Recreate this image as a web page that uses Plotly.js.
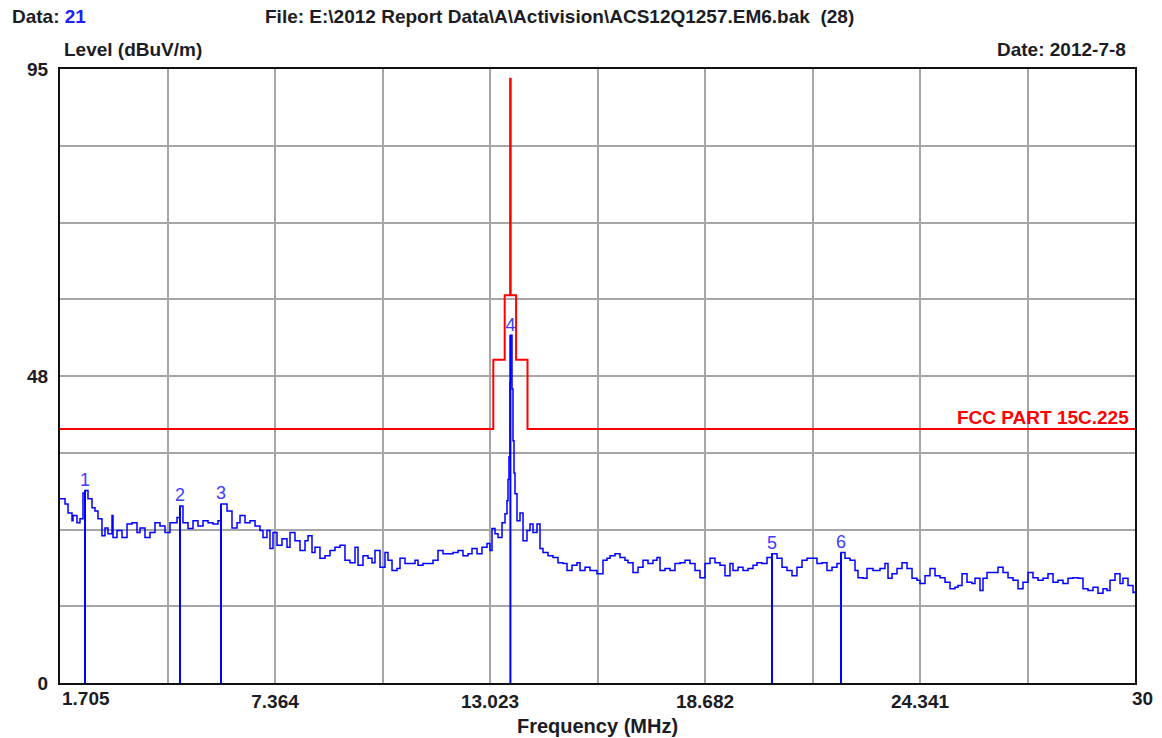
<!DOCTYPE html>
<html>
<head>
<meta charset="utf-8">
<script src="https://cdn.plot.ly/plotly-3.0.1.min.js"></script>
<style>html,body{margin:0;padding:0;background:#fff;}#chart{width:1162px;height:738px;}</style>
</head>
<body>
<div id="chart"></div>
<script>
// Measured trace: frequency (MHz) and level (dBuV/m)
const traceFreq = [1.705,1.837,1.916,2.021,2.047,2.152,2.231,2.310,2.363,2.442,2.547,2.626,2.705,2.810,2.889,2.968,3.074,3.100,3.205,3.337,3.469,3.600,3.732,3.811,3.942,4.074,4.205,4.337,4.469,4.600,4.785,4.864,4.942,5.074,5.206,5.337,5.469,5.601,5.732,5.864,5.943,6.101,6.232,6.364,6.443,6.574,6.706,6.838,6.969,7.048,7.153,7.232,7.311,7.417,7.548,7.680,7.759,7.890,8.022,8.154,8.233,8.338,8.417,8.548,8.680,8.812,8.943,9.075,9.206,9.338,9.470,9.549,9.680,9.812,9.917,9.996,10.128,10.259,10.338,10.444,10.575,10.654,10.786,10.917,11.049,11.128,11.259,11.391,11.523,11.654,11.786,11.918,12.049,12.181,12.312,12.444,12.549,12.681,12.812,12.944,13.023,13.076,13.155,13.234,13.339,13.418,13.470,13.497,13.523,13.549,13.560,13.602,13.628,13.655,13.681,13.734,13.813,13.892,13.997,14.076,14.155,14.260,14.339,14.418,14.550,14.681,14.813,14.944,15.050,15.181,15.313,15.392,15.524,15.655,15.839,15.997,16.103,16.182,16.313,16.445,16.576,16.655,16.787,16.919,17.050,17.182,17.313,17.419,17.498,17.629,17.761,17.892,18.024,18.156,18.287,18.419,18.550,18.682,18.814,18.945,19.077,19.208,19.340,19.419,19.551,19.682,19.814,19.946,20.051,20.182,20.314,20.445,20.577,20.709,20.840,20.972,21.103,21.235,21.367,21.498,21.630,21.761,21.893,22.025,22.156,22.262,22.367,22.499,22.630,22.709,22.841,22.946,23.104,23.288,23.420,23.499,23.604,23.736,23.867,23.999,24.131,24.262,24.341,24.473,24.604,24.736,24.867,24.999,25.131,25.262,25.341,25.447,25.578,25.710,25.789,25.920,25.999,26.105,26.236,26.394,26.526,26.658,26.789,26.921,27.052,27.184,27.315,27.447,27.579,27.710,27.842,27.973,28.105,28.237,28.368,28.500,28.631,28.763,28.895,29.026,29.158,29.263,29.342,29.474,29.605,29.684,29.816,29.948,30.000];
const traceLevel = [28.5,27.7,26.3,25.1,25.9,24.8,25.4,29.4,29.8,28.5,27.1,26.6,25.4,22.8,24.0,23.1,25.9,22.5,23.6,22.5,24.6,24.8,23.3,24.0,22.5,23.3,24.8,24.3,23.3,24.8,25.6,27.4,24.8,23.9,25.1,24.3,25.1,24.8,24.6,25.1,27.7,26.6,24.0,24.8,25.9,24.8,25.1,24.3,23.6,22.5,23.6,20.8,23.3,21.3,22.3,21.0,23.3,22.0,20.5,22.0,22.8,20.2,21.0,19.3,19.7,20.5,21.0,21.3,19.0,18.6,21.0,18.2,19.7,19.3,18.6,20.5,17.9,20.2,19.0,17.4,17.7,19.3,18.5,18.5,19.0,18.2,18.5,18.5,19.0,20.5,20.0,20.0,20.2,20.5,19.7,20.0,20.8,20.0,21.0,21.6,20.5,23.9,23.1,22.5,24.8,26.2,28.2,31.5,35.0,46.5,53.8,45.5,37.5,32.5,29.3,25.1,26.3,22.0,23.6,24.6,23.3,24.6,20.8,20.2,19.7,19.4,18.6,18.5,17.4,18.2,18.6,17.4,17.9,17.4,16.9,19.0,19.3,19.7,20.0,19.4,19.0,18.6,17.1,17.9,19.0,18.5,19.0,19.4,17.4,17.7,17.4,18.5,18.6,19.0,18.5,17.4,16.3,18.5,19.3,18.6,18.2,16.6,18.5,17.4,17.9,17.4,17.7,18.2,18.6,18.5,19.4,20.0,19.3,17.9,17.4,16.6,17.9,19.0,19.3,19.3,18.5,18.6,17.4,17.9,18.5,20.2,19.3,19.0,17.4,16.3,16.2,17.7,17.4,17.7,18.5,16.2,16.9,17.7,18.6,17.7,16.2,15.9,15.4,16.6,17.7,16.6,16.3,15.6,14.6,14.8,15.1,16.9,15.6,15.4,16.2,14.3,16.2,17.1,17.1,17.9,17.1,16.3,15.9,14.6,15.6,17.1,16.3,15.9,16.2,16.9,15.6,15.9,15.4,16.2,16.3,16.2,14.6,14.3,14.8,13.9,14.6,14.3,15.9,16.9,15.4,16.2,15.1,14.0,14.2];

// FCC PART 15C.225 limit (dBuV/m)
const limitFreq  = [1.705,13.11,13.11,13.41,13.41,13.553,13.553,13.567,13.567,13.71,13.71,14.01,14.01,30];
const limitLevel = [39.3,39.3,50.0,50.0,60.0,60.0,93.5,93.5,60.0,60.0,50.0,50.0,39.3,39.3];

// Marked peaks
const markerNo    = ["1","2","3","4","5","6"];
const markerFreq  = [2.363,4.864,5.943,13.560,20.445,22.262];
const markerLevel = [29.8,27.4,27.7,53.8,20.0,20.2];

// Axis ticks
const xTickVals = [1.705,4.5345,7.364,10.1935,13.023,15.8525,18.682,21.5115,24.341,27.1705,30];
const xTickText = ["","","7.364","","13.023","","18.682","","24.341","",""];
const yTickVals = [0,11.875,23.75,35.625,47.5,59.375,71.25,83.125,95];
const yTickText = ["0","","","","48","","","","95"];

const stemX = [], stemY = [];
markerFreq.forEach((f,i)=>{ stemX.push(f,f,null); stemY.push(0,markerLevel[i],null); });

const F = 'Liberation Sans, Arial, sans-serif';
const TXT = '#1c1c24';

const data = [
  {x: limitFreq, y: limitLevel, mode:'lines', line:{color:'#ff0000', width:2}, hoverinfo:'skip', name:'FCC PART 15C.225'},
  {x: traceFreq, y: traceLevel, mode:'lines', line:{color:'#0000ff', width:1.5, shape:'hv'}, name:'Level'},
  {x: stemX, y: stemY, mode:'lines', line:{color:'#0000ff', width:2}, hoverinfo:'skip', name:'Markers'},
  {x: markerFreq, y: markerLevel, mode:'text', text: markerNo, textposition:'top center',
   textfont:{family:F, size:18, color:'#3c3cff'}, hoverinfo:'skip', name:'Marker labels'}
];

const layout = {
  width:1162, height:738,
  margin:{l:60, r:27, t:69, b:55},
  paper_bgcolor:'#ffffff', plot_bgcolor:'#ffffff',
  showlegend:false,
  font:{family:F, color:TXT},
  xaxis:{
    range:[1.705,30], autorange:false,
    tickmode:'array', tickvals:xTickVals, ticktext:xTickText,
    showgrid:true, gridcolor:'#a6a6a6', gridwidth:2,
    showline:true, mirror:true, linecolor:'#111', linewidth:2,
    zeroline:false, ticks:'',
    tickfont:{family:F, size:19, color:TXT, weight:'bold'},
    title:{text:'Frequency (MHz)', font:{family:F, size:20, color:TXT, weight:'bold'}, standoff:8}
  },
  yaxis:{
    range:[0,95], autorange:false,
    tickmode:'array', tickvals:yTickVals, ticktext:yTickText,
    showgrid:true, gridcolor:'#a6a6a6', gridwidth:2,
    showline:true, mirror:true, linecolor:'#111', linewidth:2,
    zeroline:false, ticks:'', ticklabelstandoff:6,
    tickfont:{family:F, size:19, color:TXT, weight:'bold'}
  },
  annotations:[
    {xref:'paper', yref:'paper', x:-0.0465, y:1.085, xanchor:'left', yanchor:'middle', showarrow:false,
     text:'Data: <span style="color:#2020ff">21</span>', font:{family:F, size:19, color:TXT, weight:'bold'}},
    {xref:'paper', yref:'paper', x:0.1888, y:1.085, xanchor:'left', yanchor:'middle', showarrow:false,
     text:'File: E:\\2012 Report Data\\A\\Activision\\ACS12Q1257.EM6.bak  (28)', font:{family:F, size:19, color:TXT, weight:'bold'}},
    {xref:'paper', yref:'paper', x:0.002, y:1.031, xanchor:'left', yanchor:'middle', showarrow:false,
     text:'Level (dBuV/m)', font:{family:F, size:19, color:TXT, weight:'bold'}},
    {xref:'paper', yref:'paper', x:0.9935, y:1.031, xanchor:'right', yanchor:'middle', showarrow:false,
     text:'Date: 2012-7-8', font:{family:F, size:19, color:TXT, weight:'bold'}},
    {xref:'x', yref:'paper', x:1.705, y:0, xanchor:'left', yanchor:'top', yshift:-3, xshift:0, showarrow:false,
     text:'1.705', font:{family:F, size:19, color:TXT, weight:'bold'}},
    {xref:'x', yref:'paper', x:30, y:0, xanchor:'center', yanchor:'top', yshift:-3, xshift:7, showarrow:false,
     text:'30', font:{family:F, size:19, color:TXT, weight:'bold'}},
    {xref:'x', yref:'y', x:30, y:39.3, xanchor:'right', yanchor:'bottom', xshift:-4, yshift:-1, showarrow:false,
     text:'FCC PART 15C.225', font:{family:F, size:19, color:'#ff0000', weight:'bold'}}
  ]
};

Plotly.newPlot('chart', data, layout, {displayModeBar:false, staticPlot:true});
</script>
</body>
</html>
